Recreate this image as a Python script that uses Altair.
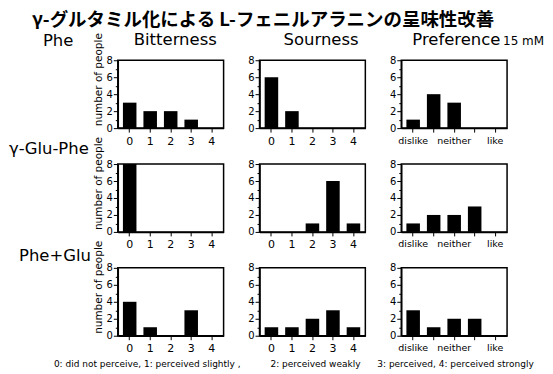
import altair as alt
import pandas as pd

title_text = "γ-グルタミル化による L-フェニルアラニンの呈味性改善"
row_names = ["Phe", "γ-Glu-Phe", "Phe+Glu"]
col_names = ["Bitterness", "Sourness", "Preference"]
concentration = "15 mM"
categories = [0, 1, 2, 3, 4]
intensity_labels = ["0", "1", "2", "3", "4"]
preference_labels = ["dislike", "", "neither", "", "like"]
y_ticks = [0, 1, 2, 3, 4, 5, 6, 7, 8]

bitterness = [[3, 2, 2, 1, 0], [8, 0, 0, 0, 0], [4, 1, 0, 3, 0]]
sourness = [[6, 2, 0, 0, 0], [0, 0, 1, 6, 1], [1, 1, 2, 3, 1]]
preference = [[1, 4, 3, 0, 0], [1, 2, 2, 3, 0], [3, 1, 2, 2, 0]]

footnotes = [
    "0: did not perceive, 1: perceived slightly ,",
    "2: perceived weakly",
    "3: perceived, 4: perceived strongly",
]

LATIN = "DejaVu Sans"
CJK = "Noto Sans CJK JP"
W, H = 106, 68


def panel(values, labels, with_ytitle, label_size):
    df = pd.DataFrame({"cat": categories, "n": values})
    label_expr = "[" + ",".join("'" + l + "'" for l in labels) + "][datum.value]"
    yaxis = dict(
        values=y_ticks,
        labelExpr="datum.value % 2 == 0 ? datum.label : ''",
        tickSize={"condition": {"test": "datum.value % 2 == 1", "value": 2.5}, "value": 4.5},
        grid=False,
        labelFontSize=10,
        labelPadding=1,
    )
    if with_ytitle:
        yaxis.update(title="number of people", titleX=-14, titleY=19,
                     titleFontSize=10.5, titleFontWeight="normal")
    else:
        yaxis.update(title=None)
    return alt.Chart(df).mark_bar(color="black").encode(
        x=alt.X("cat:O", scale=alt.Scale(paddingInner=0.34, paddingOuter=0.25),
                axis=alt.Axis(title=None, labelAngle=0, labelExpr=label_expr,
                              tickSize=4, labelPadding=3, labelFontSize=label_size)),
        y=alt.Y("n:Q", scale=alt.Scale(domain=[0, 8], nice=False), axis=alt.Axis(**yaxis)),
    ).properties(width=W, height=H)


def txt(s, x, y, size, font=LATIN, weight="normal"):
    return alt.Chart(pd.DataFrame({"t": [s]})).mark_text(
        align="left", baseline="alphabetic", fontSize=size, font=font,
        fontWeight=weight, color="black"
    ).encode(text="t:N", x=alt.value(x), y=alt.value(y))


annotations = [
    txt(title_text, -86, -34, 18.5, CJK, "bold"),
    txt(row_names[0], -75, -14, 16.5),
    txt(row_names[1], -109, 94, 16.5),
    txt(row_names[2], -99, 201, 16.5),
    txt(col_names[0], 16, -15, 16.5),
    txt(col_names[1], 166, -15, 16.5),
    txt(col_names[2], 295, -15, 16.5),
    txt(concentration, 386, -15, 12),
    txt(footnotes[0], -64, 307, 9),
    txt(footnotes[1], 153, 307, 9),
    txt(footnotes[2], 260, 307, 9),
]

panels = []
for r in range(3):
    p1 = panel(bitterness[r], intensity_labels, True, 11)
    p2 = panel(sourness[r], intensity_labels, False, 11)
    p3 = panel(preference[r], preference_labels, False, 9.5)
    if r == 0:
        p1 = alt.layer(p1, *annotations)
    panels += [p1, p2, p3]

chart = alt.concat(*panels, columns=3, spacing=36, bounds="flush").properties(
    padding={"top": 2, "left": 0, "right": 0, "bottom": 0}, background="white"
).configure_view(
    stroke="black", strokeWidth=1.5
).configure_axis(
    domainColor="black", domainWidth=1.5, tickColor="black", tickWidth=1,
    labelColor="black", labelFont=LATIN, titleFont=LATIN, titleColor="black"
)

chart.save("out.html", embed_options={"renderer": "svg", "actions": False})
